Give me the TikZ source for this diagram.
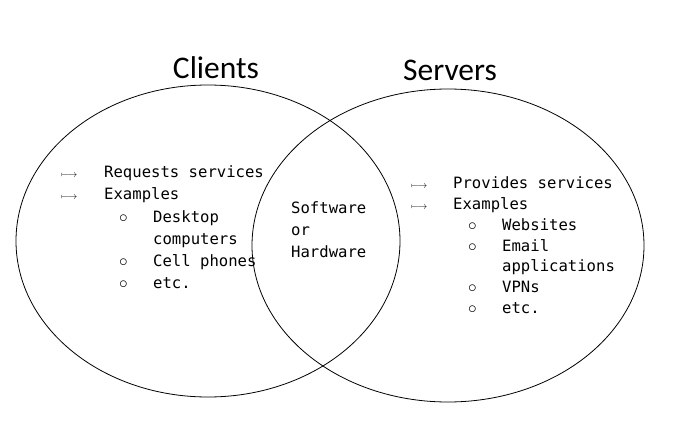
\documentclass[tikz,border=0pt]{standalone}
\usepackage{fontspec}
\setmonofont{DejaVu Sans Mono}
\newfontfamily\titlefont{Carlito}
\tikzset{
  item/.style={anchor=base west, inner sep=0pt, text=black, font=\ttfamily\fontsize{15.6}{18}\selectfont},
  title/.style={anchor=base, inner sep=0pt, font=\titlefont\fontsize{31.5}{36}\selectfont},
  arr/.style={anchor=base west, inner sep=0pt, font=\normalsize},
  dot/.style={anchor=base west, inner sep=0pt, font=\LARGE},
}
\begin{document}
\begin{tikzpicture}[x=1pt,y=-1pt]
    \useasboundingbox (0,0) rectangle (688,439);

    % Conjuntos
    \draw[line width=0.8pt] (208,241) ellipse [x radius=192, y radius=156];
    \draw[line width=0.8pt] (448,245.5) ellipse [x radius=196, y radius=156.5];

    % Titulos
    \node[title] (clients) at (216,78) {Clients};
    \node[title] (servers) at (450,80) {Servers};

    % Clientes
    \node[arr] (ca1) at (61,177) {$\longmapsto$};
    \node[arr] (ca2) at (61,199) {$\longmapsto$};
    \node[item] (c1) at (104,177) {Requests services};
    \node[item] (c2) at (104,199) {Examples};
    \node[dot] (cd1) at (119,222) {$\circ$};
    \node[item] (c3) at (153,222) {Desktop};
    \node[item] (c4) at (153,244) {computers};
    \node[dot] (cd2) at (119,266) {$\circ$};
    \node[item] (c5) at (153,266) {Cell phones};
    \node[dot] (cd3) at (119,288) {$\circ$};
    \node[item] (c6) at (153,288) {etc.};

    % Interseccion
    \node[item] (m1) at (291,213) {Software};
    \node[item] (m2) at (291,235) {or};
    \node[item] (m3) at (291,257) {Hardware};

    % Servidores
    \node[arr] (sa1) at (411,188) {$\longmapsto$};
    \node[arr] (sa2) at (411,209) {$\longmapsto$};
    \node[item] (s1) at (453,188) {Provides services};
    \node[item] (s2) at (453,209) {Examples};
    \node[dot] (sd1) at (468,230) {$\circ$};
    \node[item] (s3) at (502,230) {Websites};
    \node[dot] (sd2) at (468,251) {$\circ$};
    \node[item] (s4) at (502,251) {Email};
    \node[item] (s5) at (502,271) {applications};
    \node[dot] (sd3) at (468,292) {$\circ$};
    \node[item] (s6) at (502,292) {VPNs};
    \node[dot] (sd4) at (468,313) {$\circ$};
    \node[item] (s7) at (502,313) {etc.};
\end{tikzpicture}
\end{document}
